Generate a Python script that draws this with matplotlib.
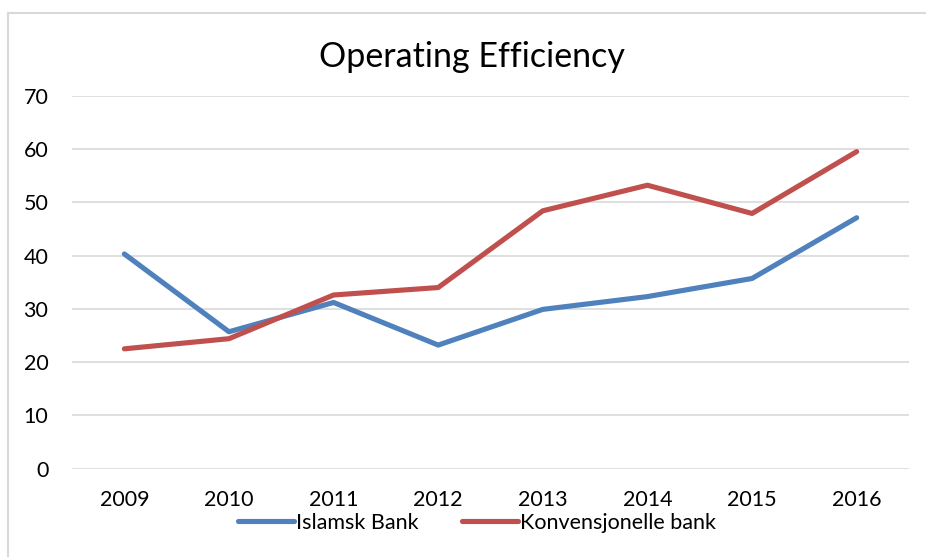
import matplotlib
matplotlib.use('Agg')
import matplotlib.pyplot as plt
from matplotlib.lines import Line2D

# === Données ===
annees = ["2009", "2010", "2011", "2012", "2013", "2014", "2015", "2016"]
islamsk_bank = [40.3, 25.7, 31.2, 23.2, 29.9, 32.3, 35.7, 47.1]
konvensjonelle_bank = [22.5, 24.4, 32.6, 34.0, 48.4, 53.2, 47.9, 59.5]

plt.rcParams['font.family'] = ['Lato', 'DejaVu Sans']

fig = plt.figure(figsize=(9.26, 5.57), dpi=100)
ax = fig.add_axes([0.0778, 0.1585, 0.9038, 0.6697])

x = range(len(annees))
ax.plot(x, islamsk_bank, color='#4F81BD', lw=3.7, solid_capstyle='round',
        solid_joinstyle='round', label="Islamsk Bank", zorder=3)
ax.plot(x, konvensjonelle_bank, color='#C0504D', lw=3.7, solid_capstyle='round',
        solid_joinstyle='round', label="Konvensjonelle bank", zorder=3)

ax.set_xlim(-0.5, len(annees) - 0.5)
ax.set_ylim(0, 70)
ax.set_yticks(range(0, 71, 10))
ax.set_xticks(list(x))
ax.set_xticklabels(annees)
ax.tick_params(length=0, labelsize=15.5, colors='#000000')
ax.tick_params(axis='y', pad=17)
ax.tick_params(axis='x', pad=15)
ax.grid(axis='y', color='#D9D9D9', lw=1.2)
ax.set_axisbelow(True)
for s in ax.spines.values():
    s.set_visible(False)

fig.text(0.51, 1 - 57 / 557, "Operating Efficiency", ha='center', va='center', fontsize=24.5)

leg = fig.legend(loc='center', bbox_to_anchor=(0.515, 1 - 523 / 557), ncol=2,
                 frameon=False, fontsize=15.5, handlelength=2.6, handletextpad=0.1,
                 columnspacing=2.0)

# cadre gris du graphique
fig.add_artist(Line2D([8 / 926, 8 / 926], [0, 1 - 13 / 557], transform=fig.transFigure,
                      color='#D9D9D9', lw=1.5))
fig.add_artist(Line2D([8 / 926, 1], [1 - 13 / 557, 1 - 13 / 557], transform=fig.transFigure,
                      color='#D9D9D9', lw=1.5))

plt.savefig("out.png", dpi=100)
